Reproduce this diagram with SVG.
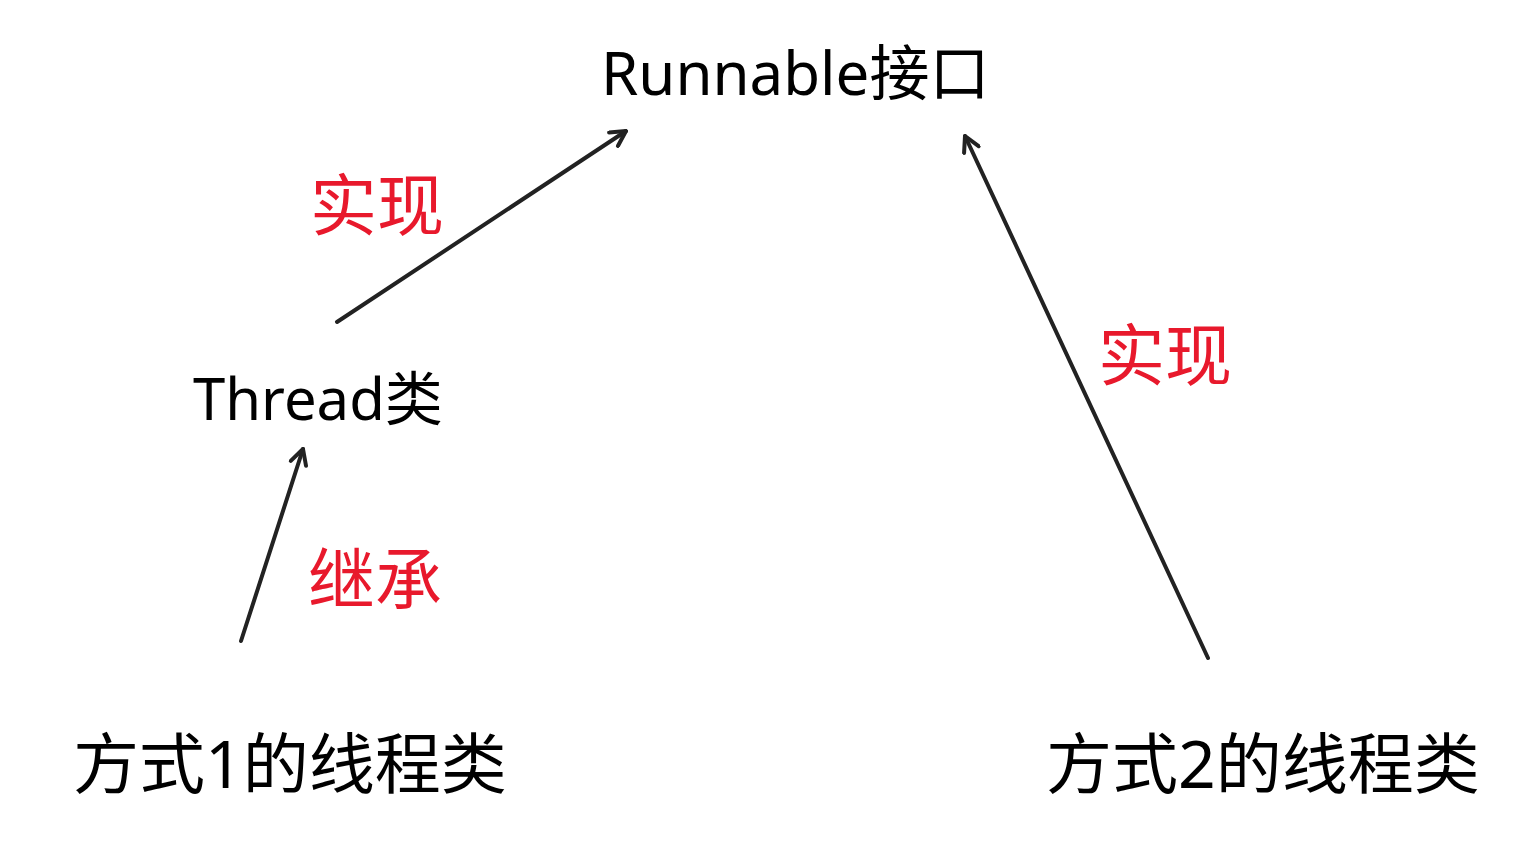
<svg xmlns="http://www.w3.org/2000/svg" width="1528" height="845" viewBox="0 0 1528 845">
<style>
.t{font-family:"Noto Sans","Noto Sans CJK SC",sans-serif;fill:#000;}
.r{font-family:"Noto Sans CJK SC",sans-serif;fill:#e8192c;}
.c{stroke:#222;stroke-width:4;fill:none;stroke-linecap:round;}
</style>
<defs>
<marker id="a" viewBox="0 0 20 20" refX="18" refY="10" markerWidth="20" markerHeight="20" markerUnits="userSpaceOnUse" orient="auto">
<path d="M3,2 L18,10 L3,18" fill="none" stroke="#222" stroke-width="4" stroke-linecap="round" stroke-linejoin="round"/>
</marker>
</defs>
<rect width="1528" height="845" fill="#fff"/>
<g id="connectors">
<line class="c" x1="337" y1="322" x2="626" y2="131" marker-end="url(#a)"/>
<line class="c" x1="1208" y1="658" x2="965" y2="136" marker-end="url(#a)"/>
<line class="c" x1="241" y1="641" x2="303" y2="449" marker-end="url(#a)"/>
</g>
<g id="runnable"><text class="t" x="601" y="95" font-size="60">Runnable接口</text></g>
<g id="thread"><text class="t" x="193" y="420" font-size="58">Thread类</text></g>
<g id="way1"><text class="t" x="73" y="788" font-size="66">方式1的线程类</text></g>
<g id="way2"><text class="t" x="1046" y="788" font-size="66">方式2的线程类</text></g>
<g id="l1"><text class="r" x="310" y="230" font-size="67">实现</text></g>
<g id="l2"><text class="r" x="1098" y="380" font-size="67">实现</text></g>
<g id="l3"><text class="r" x="308" y="604" font-size="67">继承</text></g>
</svg>
